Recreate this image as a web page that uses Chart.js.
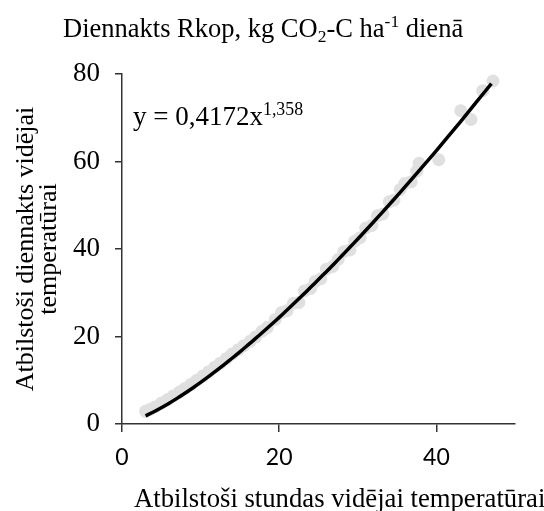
<!DOCTYPE html>
<html lang="lv">
<head>
  <meta charset="UTF-8">
  <title>Diennakts Rkop</title>
  <script src="https://cdn.jsdelivr.net/npm/chart.js"></script>
  <style>
    body { margin: 0; background: #fff; }
    #grafiks { display: block; }
  </style>
</head>
<body>
  <canvas id="grafiks" width="544" height="511"></canvas>

<script>
  // mērījumi (stundas vs diennakts vidējā temperatūra)
  const punktiX = [3.0, 3.5, 4.2, 5.0, 5.8, 6.5, 7.3, 8.0, 8.8, 9.5, 10.3, 11.0, 11.8, 12.5, 13.3, 14.0, 14.8, 15.5, 16.3, 17.0,
    17.8, 18.5, 19.5, 20.3, 21.0, 21.8, 22.5, 23.2, 24.0, 24.6, 25.3, 26.0, 26.8, 27.5, 28.2, 29.0, 29.6, 30.3, 31.0, 31.8,
    32.5, 33.2, 34.0, 34.6, 35.4, 36.0, 36.8, 37.5, 37.8, 40.3, 43.1, 44.4, 45.9, 47.2];
  const punktiY = [2.9, 3.3, 3.9, 4.8, 5.6, 6.4, 7.3, 8.1, 9.1, 10.0, 11.0, 11.9, 13.0, 13.9, 15.0, 16.0, 17.0, 17.9, 18.9, 19.9,
    21.2, 22.1, 23.9, 25.5, 25.9, 27.6, 27.8, 30.4, 31.0, 32.6, 33.2, 35.4, 36.0, 37.6, 39.4, 39.8, 41.8, 42.6, 44.8, 45.4,
    47.6, 48.0, 50.8, 51.2, 53.6, 55.0, 55.4, 57.8, 59.6, 60.4, 71.6, 69.6, 76.2, 78.4];

  // trenda līnija y = 0,4172x^1,358 (nolasīta)
  const liknesX = [3, 4, 5, 6, 7, 8, 9, 10, 11, 12, 13, 14, 15, 16, 17, 18, 19, 20, 21, 22, 23, 24, 25, 26, 27, 28, 29, 30,
    31, 32, 33, 34, 35, 36, 37, 38, 40, 43, 45, 47];
  const liknesY = [1.85, 2.74, 3.71, 4.76, 5.86, 7.03, 8.24, 9.51, 10.83, 12.19, 13.59, 15.03, 16.50, 18.01, 19.56, 21.13,
    22.74, 24.38, 26.05, 27.75, 29.48, 31.24, 33.02, 34.82, 36.65, 38.51, 40.39, 42.30, 44.23, 46.18, 48.15, 50.15, 52.15,
    54.19, 56.24, 58.33, 62.51, 68.96, 73.38, 77.82];

  const xTicks = [0, 20, 40];
  const yTicks = [0, 20, 40, 60, 80];

  const serif = '"Liberation Serif", "Times New Roman", serif';

  // raksta tekstu ar augšrakstiem / apakšrakstiem (no kreisās malas)
  function rakstit(ctx, dalas, x, y, izmers) {
    let cx = x;
    dalas.forEach(function (d) {
      const s = d.v ? izmers * 0.66 : izmers;
      ctx.font = s + 'px ' + serif;
      let dy = 0;
      if (d.v === 'sup') dy = -izmers * 0.36;
      if (d.v === 'sub') dy = izmers * 0.2;
      ctx.fillText(d.t, cx, y + dy);
      cx += ctx.measureText(d.t).width;
    });
  }

  const teksti = {
    id: 'teksti',
    afterDraw(chart) {
      const ctx = chart.ctx;
      ctx.save();
      ctx.fillStyle = '#000';
      ctx.textBaseline = 'alphabetic';
      ctx.textAlign = 'left';
      rakstit(ctx, [
        { t: 'Diennakts Rkop, kg CO' }, { t: '2', v: 'sub' }, { t: '-C ha' }, { t: '-1', v: 'sup' }, { t: ' dienā' }
      ], 63, 37, 26.5);
      rakstit(ctx, [{ t: 'Atbilstoši stundas vidējai temperatūrai' }], 134, 507, 26.7);
      // vienādojums
      rakstit(ctx, [{ t: 'y = 0,4172x' }, { t: '1,358', v: 'sup' }], 133, 125, 27);
      ctx.restore();
    }
  };

  const punkti = punktiX.map(function (v, i) { return { x: v, y: punktiY[i] }; });
  const likne = liknesX.map(function (v, i) { return { x: v, y: liknesY[i] }; });

  new Chart(document.getElementById('grafiks'), {
    type: 'scatter',
    data: {
      datasets: [{
        label: 'Rkop',
        data: punkti,
        backgroundColor: '#e0e0e0',
        borderWidth: 0,
        pointRadius: 6.5,
        order: 1
      }, {
        label: 'trends',
        data: likne,
        showLine: true,
        borderColor: '#000',
        borderWidth: 3.5,
        pointRadius: 0,
        tension: 0.3,
        order: 0
      }]
    },
    options: {
      responsive: false,
      animation: false,
      layout: { padding: { top: 74, right: 29, left: 0, bottom: 0 } },
      plugins: { legend: { display: false }, tooltip: { enabled: false } },
      scales: {
        x: {
          min: 0, max: 50,
          afterBuildTicks: function (s) { s.ticks = xTicks.map(function (v) { return { value: v }; }); },
          afterFit: function (s) { s.height = 87; },
          grid: { drawOnChartArea: false, drawTicks: true, tickLength: 8, color: '#333', lineWidth: 1.5 },
          border: { color: '#333', width: 1.5 },
          ticks: { color: '#000', padding: 12, font: { family: 'Lato', size: 23 } }
        },
        y: {
          min: 0, max: 80,
          afterBuildTicks: function (s) { s.ticks = yTicks.map(function (v) { return { value: v }; }); },
          afterFit: function (s) { s.width = 122; },
          grid: { drawOnChartArea: false, drawTicks: true, tickLength: 7, color: '#333', lineWidth: 1.5 },
          border: { color: '#333', width: 1.5 },
          ticks: { color: '#000', padding: 15, font: { family: serif, size: 27 } },
          title: {
            display: true,
            text: ['Atbilstoši diennakts vidējai', 'temperatūrai'],
            color: '#000',
            font: { family: serif, size: 26, lineHeight: 0.9 },
            padding: { top: 14, bottom: 0 }
          }
        }
      }
    },
    plugins: [teksti]
  });
</script>
</body>
</html>
